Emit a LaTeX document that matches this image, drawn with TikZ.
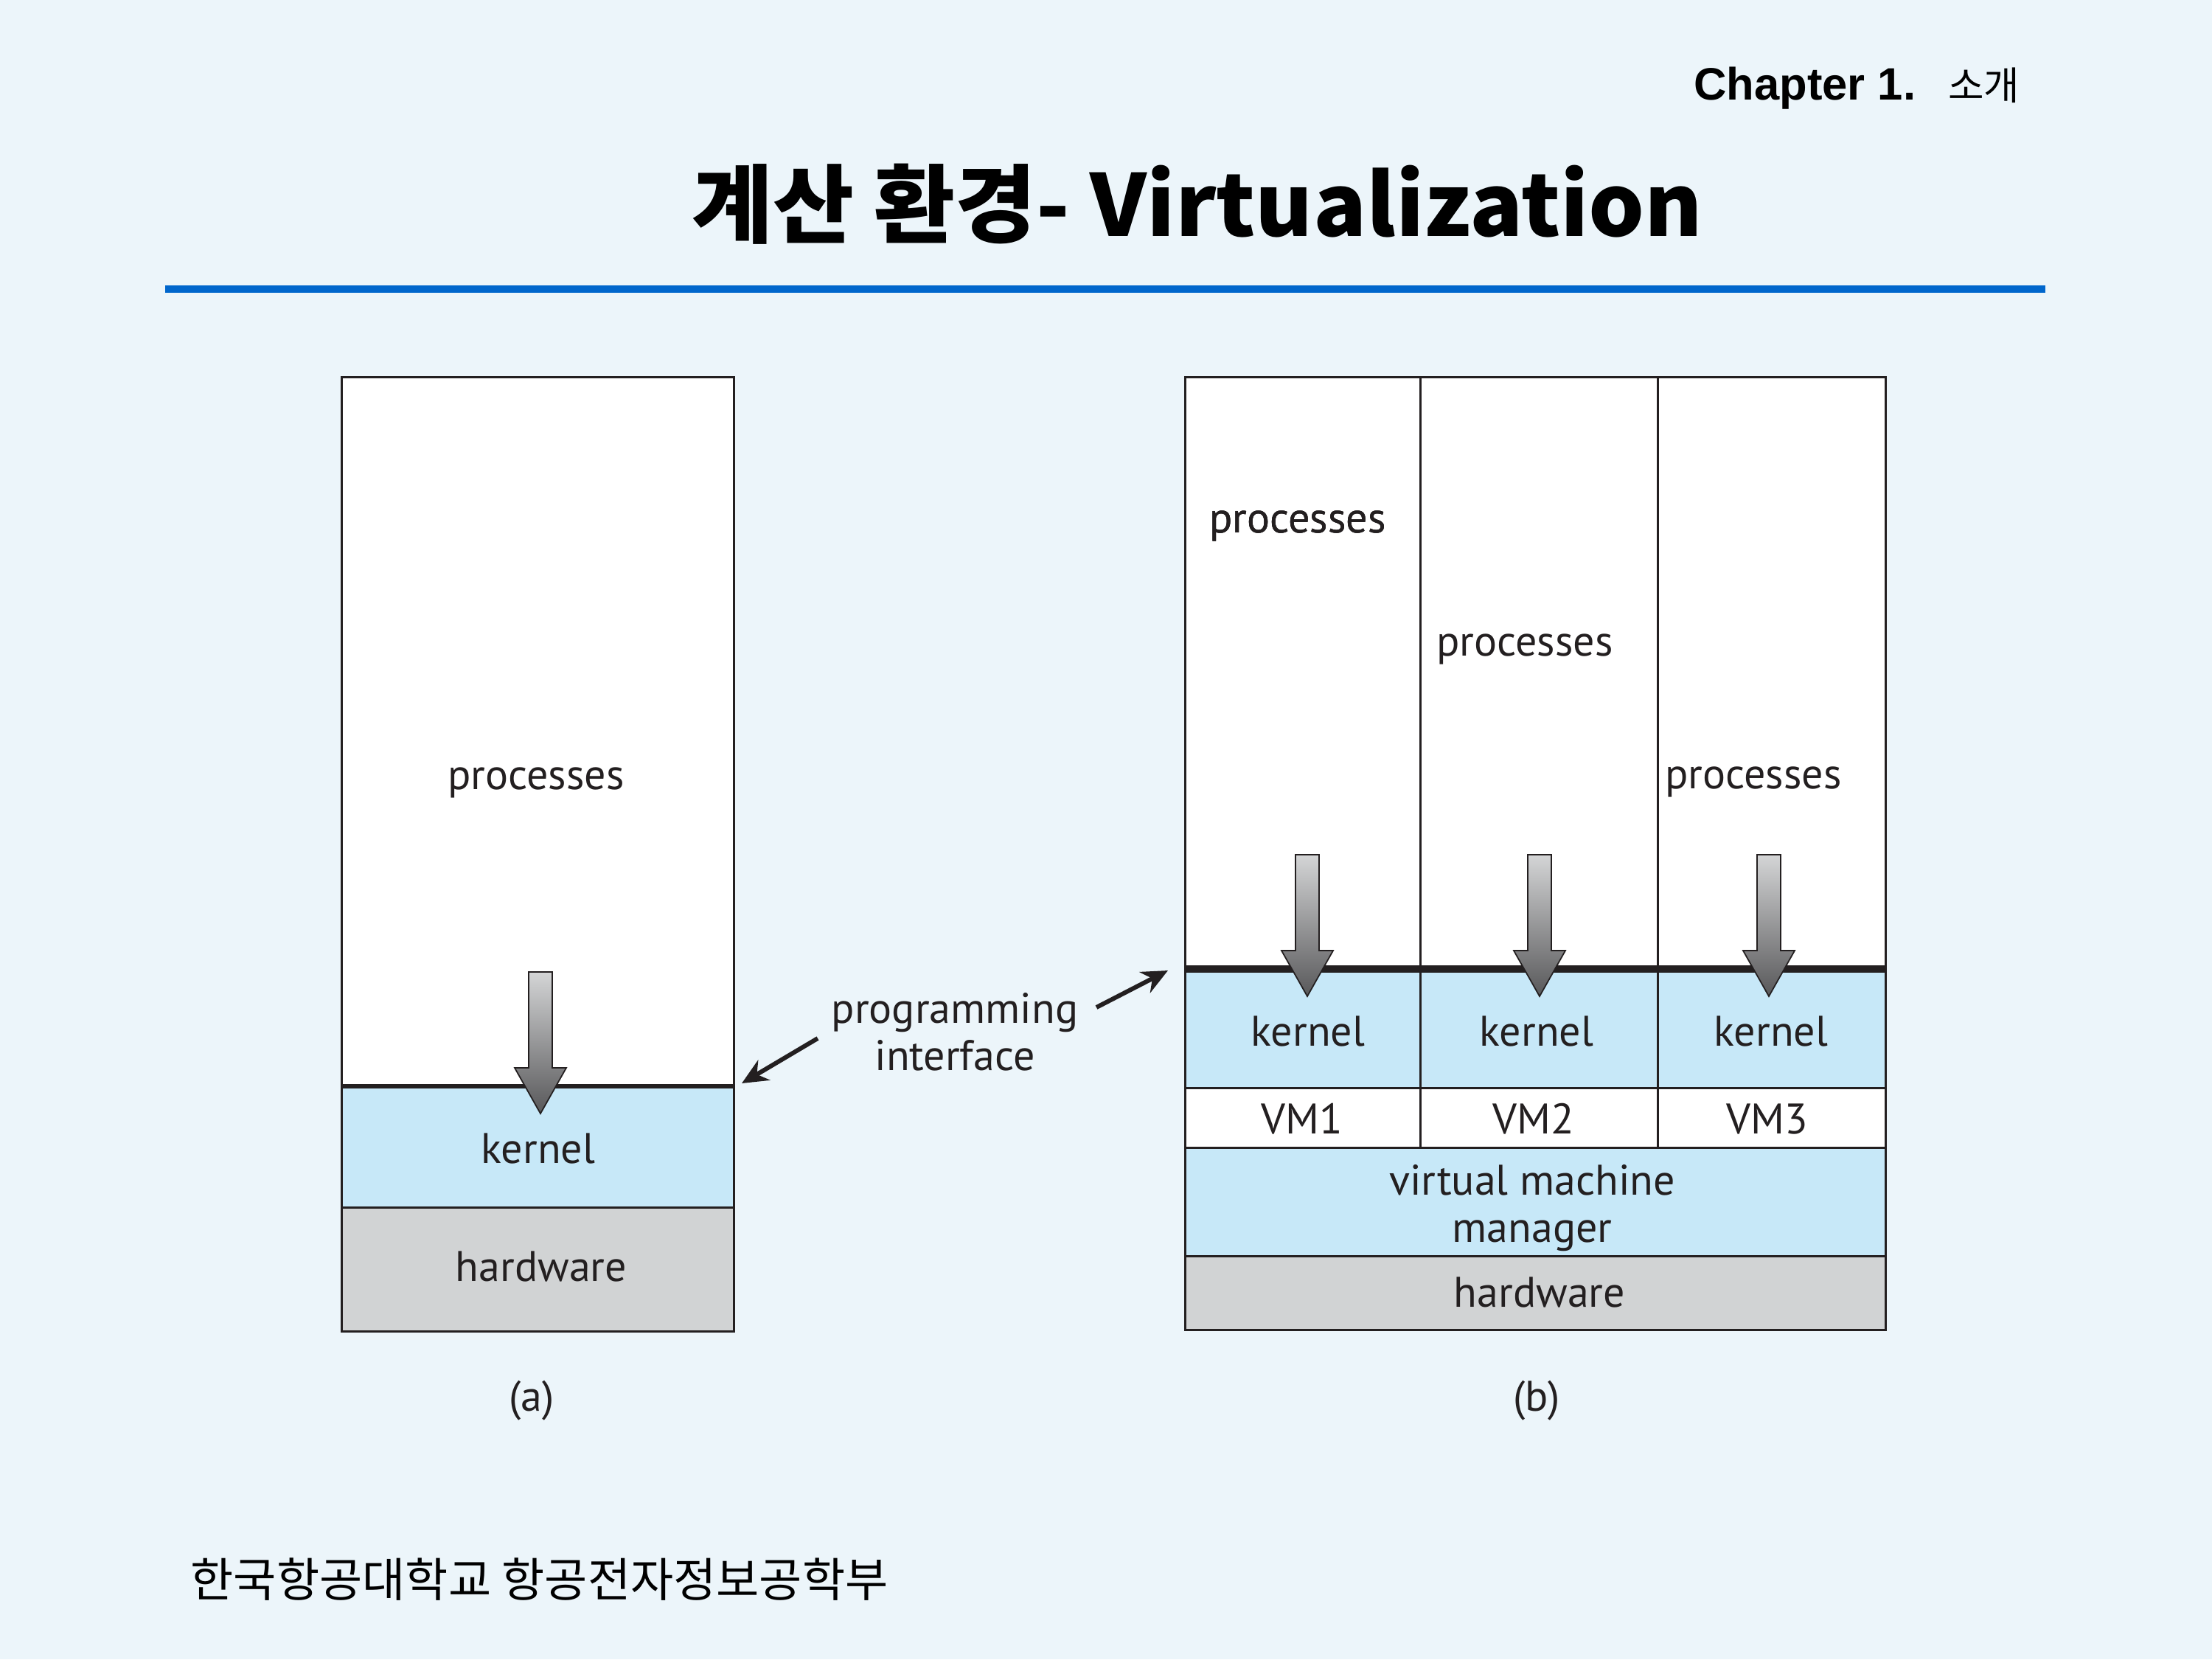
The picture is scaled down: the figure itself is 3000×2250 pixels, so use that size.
\documentclass[tikz,border=0pt]{standalone}
\usepackage{fontspec}
\setmainfont{PT Sans}
\setsansfont{Liberation Sans}
\newfontfamily\hangul{Noto Sans CJK KR}
\newfontfamily\titlehangul[FakeStretch=1.03]{Noto Sans CJK KR}
\usetikzlibrary{arrows.meta}

\definecolor{pagebg}{RGB}{236,245,250}
\definecolor{rulebl}{RGB}{0,102,204}
\definecolor{kernelbl}{RGB}{199,232,248}
\definecolor{hwgray}{RGB}{209,211,212}
\definecolor{ink}{RGB}{35,31,32}
\definecolor{callhi}{RGB}{212,213,214}
\definecolor{calllo}{RGB}{88,88,90}

\tikzset{
    layer/.style={draw=ink, line width=0.85pt},
    lbl/.style={font=\fontsize{16.5}{18.2}\selectfont, text=ink, anchor=base, inner sep=0pt, align=center},
    pointer/.style={-{Stealth[length=10pt,width=9pt]}, line width=1.7pt, draw=ink},
}

% downward call arrow: x, top y
\newcommand\calldown[2]{%
    \shade[top color=callhi, bottom color=calllo, draw=ink, line width=0.5pt]
        (#1-16,#2) -- (#1+16,#2) -- (#1+16,#2+130) -- (#1+35,#2+130) -- (#1,#2+192)
        -- (#1-35,#2+130) -- (#1-16,#2+130) -- cycle;}

\begin{document}
\begin{tikzpicture}[x=0.01cm, y=-0.01cm]
    \useasboundingbox (0,0) rectangle (3000,2250);
    \fill[pagebg] (0,0) rectangle (3000,2250);

    % heading
    \node[anchor=base east, inner sep=0pt] (chap) at (2740,135)
        {{\sffamily\bfseries\fontsize{17.5}{20}\selectfont Chapter 1.}\hspace{12.5pt}{\hangul\fontsize{15}{18}\selectfont 소개}};
    \node[anchor=base, inner sep=0pt, font=\titlehangul\bfseries\fontsize{33}{36}\selectfont] (title) at (1624,320)
        {계산 환경- Virtualization};
    \draw[rulebl, line width=2.6pt] (224,392) -- (2774,392);

    % (a) plain machine
    \fill[white] (463,511) rectangle (995,1473);
    \fill[kernelbl] (463,1473) rectangle (995,1637);
    \fill[hwgray] (463,1637) rectangle (995,1805);
    \draw[layer] (463,511) rectangle (995,1805);
    \draw[layer] (463,1637) -- (995,1637);
    \draw[ink, line width=1.7pt] (463,1473) -- (995,1473);
    \calldown{733}{1318}
    \node[lbl] (procA) at (727,1070) {processes};
    \node[lbl] (kernA) at (730,1577) {kernel};
    \node[lbl] (hwA) at (734,1737) {hardware};
    \node[lbl] (capA) at (721,1913) {(a)};

    % (b) virtual machines
    \fill[white] (1607,511) rectangle (2557,1314);
    \fill[kernelbl] (1607,1314) rectangle (2557,1475);
    \fill[white] (1607,1475) rectangle (2557,1556);
    \fill[kernelbl] (1607,1556) rectangle (2557,1703);
    \fill[hwgray] (1607,1703) rectangle (2557,1803);
    \draw[layer] (1607,511) rectangle (2557,1803);
    \foreach \y in {1475,1556,1703}
        \draw[layer] (1607,\y) -- (2557,\y);
    \foreach \x in {1926,2248}
        \draw[layer] (\x,511) -- (\x,1556);
    \draw[ink, line width=2.8pt] (1607,1314) -- (2557,1314);
    \foreach \x in {1773,2088,2399}
        \calldown{\x}{1159}
    \node[lbl] (procB1) at (1760,722) {processes};
    \node[lbl] (procB2) at (2068,889) {processes};
    \node[lbl] (procB3) at (2378,1069) {processes};
    \node[lbl] (kernB1) at (1774,1418) {kernel};
    \node[lbl] (kernB2) at (2084,1418) {kernel};
    \node[lbl] (kernB3) at (2402,1418) {kernel};
    \node[lbl] (vm1) at (1766,1537) {VM1};
    \node[lbl] (vm2) at (2080,1537) {VM2};
    \node[lbl] (vm3) at (2397,1537) {VM3};
    \node[lbl] (vmm) at (2078,1684) {virtual machine\\manager};
    \node[lbl] (hwB) at (2088,1772) {hardware};
    \node[lbl] (capB) at (2084,1913) {(b)};

    % programming interface
    \node[lbl] (progif) at (1295,1451) {programming\\interface};
    \coordinate (ifA) at (1109,1408);
    \coordinate (ifAtip) at (1006,1469);
    \coordinate (ifB) at (1487,1366);
    \coordinate (ifBtip) at (1584,1316);
    \draw[pointer] (ifA) -- (ifAtip);
    \draw[pointer] (ifB) -- (ifBtip);

    % footer
    \node[anchor=base west, inner sep=0pt, font=\hangul\fontsize{18}{20}\selectfont] (footer) at (258,2165)
        {한국항공대학교 항공전자정보공학부};
\end{tikzpicture}
\end{document}
